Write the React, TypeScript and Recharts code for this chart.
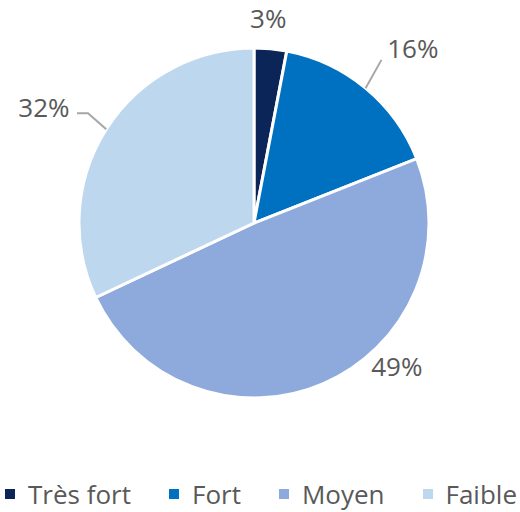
import { PieChart, Pie, Cell, Legend } from "recharts";

const categories = ["Très fort", "Fort", "Moyen", "Faible"];
const shares = [3, 16, 49, 32];
const colors = ["#0b2559", "#0070c0", "#8eaadc", "#bdd7ee"];

const data = categories.map((name, i) => ({ name, value: shares[i] }));

const RADIAN = Math.PI / 180;
const textColor = "#595959";
const font = "'Open Sans', sans-serif";

// where Excel put each label: clockwise angle from 12 o'clock, radius, optional leader line
const placement = [
  { cw: 4, r: 205, leader: null },
  { cw: 42.3, r: 236, leader: { cw: 38, r: 207, tail: 0 } },
  { cw: 135, r: 202, leader: null },
  { cw: 298.9, r: 240, leader: { cw: 303.5, r: 199, tail: -11 } },
] as const;

function polar(cx: number, cy: number, r: number, cw: number) {
  return { x: cx + r * Math.sin(cw * RADIAN), y: cy - r * Math.cos(cw * RADIAN) };
}

function renderLabel(props: any) {
  const { cx, cy, midAngle, outerRadius, percent, index } = props;
  const p = placement[index];
  const pos = polar(cx, cy, p.r, p.cw);
  const midCw = 90 - midAngle;
  let line = null;
  if (p.leader) {
    const a = polar(cx, cy, outerRadius, midCw);
    const b = polar(cx, cy, p.leader.r, p.leader.cw);
    const pts = `M${a.x},${a.y}L${b.x},${b.y}` + (p.leader.tail ? `L${b.x + p.leader.tail},${b.y}` : "");
    line = <path d={pts} stroke="#a6a6a6" strokeWidth={2} fill="none" />;
  }
  return (
    <g key={`lbl-${index}`}>
      {line}
      <text x={pos.x} y={pos.y} textAnchor="middle" dominantBaseline="central" fill={textColor} fontSize={26} fontFamily={font}>
        {`${Math.round(percent * 100)}%`}
      </text>
    </g>
  );
}

function renderLegend() {
  return (
    <div style={{ display: "flex", justifyContent: "space-between", alignItems: "center", padding: "0 3px 0 5px", fontFamily: font, fontSize: 26, color: textColor }}>
      {categories.map((c, i) => (
        <span key={c} style={{ display: "flex", alignItems: "center" }}>
          <span style={{ display: "inline-block", width: 10, height: 10, background: colors[i], marginRight: 13 }} />
          {c}
        </span>
      ))}
    </div>
  );
}

export default function App() {
  return (
    <div style={{ position: "absolute", left: 0, top: 0, width: 520, height: 512, background: "#fff" }}>
      <PieChart width={520} height={512} margin={{ top: 0, right: 0, bottom: 0, left: 0 }}>
        <Pie
          data={data}
          dataKey="value"
          nameKey="name"
          cx={254}
          cy={223}
          outerRadius={175}
          startAngle={90}
          endAngle={-270}
          stroke="#fff"
          strokeWidth={3}
          label={renderLabel}
          labelLine={false}
          isAnimationActive={false}
        >
          {data.map((d, i) => (
            <Cell key={d.name} fill={colors[i]} />
          ))}
        </Pie>
        <Legend verticalAlign="bottom" content={renderLegend} wrapperStyle={{ bottom: 0, left: 0, width: 520 }} />
      </PieChart>
    </div>
  );
}
